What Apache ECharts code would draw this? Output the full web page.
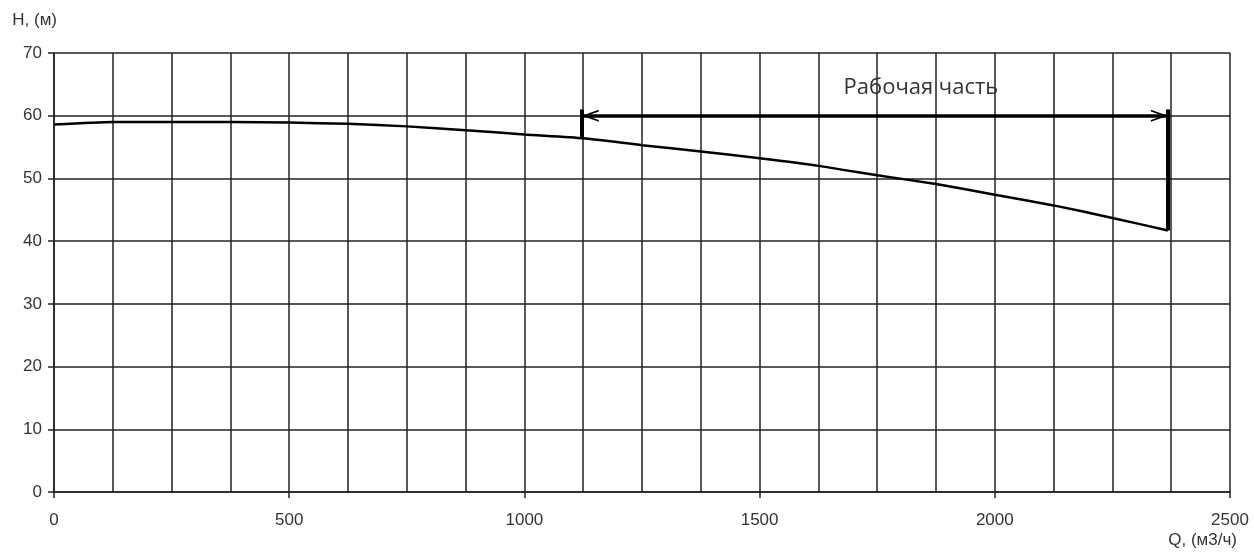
<!DOCTYPE html>
<html>
<head>
<meta charset="utf-8">
<script src="https://cdn.jsdelivr.net/npm/echarts@6/dist/echarts.min.js"></script>
<style>
  html, body { margin: 0; padding: 0; background: #fff; }
  #chart { width: 1254px; height: 553px; }
</style>
</head>
<body>
<div id="chart"></div>
<script>
// расход Q, м3/ч
const qValues = [0, 125, 250, 375, 500, 625, 750, 875, 1000, 1125, 1250, 1375, 1500, 1625, 1750, 1875, 2000, 2125, 2250, 2368]
// напор H, м
const hValues = [58.6, 59.0, 59.0, 59.0, 58.9, 58.7, 58.3, 57.7, 57.0, 56.4, 55.3, 54.3, 53.2, 52.0, 50.5, 49.1, 47.4, 45.7, 43.7, 41.7]

// рабочая часть
const workStart = 1122
const workStartH = 56.4
const workEnd = 2368
const workArrowH = 60
const workMarkTop = 61
const workLabel = "Рабочая часть"
const workLabelPos = [1843, 64.4]

const axisNames = { x: "Q, (м3/ч)", y: "H, (м)" }

const gridColor = "#222"
const textColor = "#333"
const chevron = "path://M6 0 L12 17 L10.2 17 L6 5 L1.8 17 L0 17 Z"

const chart = echarts.init(document.getElementById("chart"))

const option = {
  animation: false,
  grid: {
    left: 54,
    right: 24,
    top: 53,
    bottom: 61,
    containLabel: false,
    outerBoundsMode: "none"
  },
  xAxis: {
    type: "value",
    min: 0,
    max: 2500,
    interval: 500,
    name: axisNames.x,
    nameLocation: "end",
    nameGap: 7,
    nameTextStyle: {
      align: "right",
      verticalAlign: "top",
      padding: [40, 0, 0, 0],
      fontFamily: "Liberation Sans",
      fontSize: 17,
      color: textColor
    },
    axisLine: { show: true, lineStyle: { color: gridColor, width: 1.5 } },
    axisTick: { show: true, length: 6, lineStyle: { color: gridColor, width: 1.5 } },
    axisLabel: {
      margin: 20,
      fontFamily: "Liberation Sans",
      fontSize: 17,
      color: textColor,
      formatter: (v) => String(v)
    },
    splitLine: { show: true, lineStyle: { color: gridColor, width: 1.5 } },
    minorTick: { show: false, splitNumber: 4 },
    minorSplitLine: { show: true, lineStyle: { color: gridColor, width: 1.5 } }
  },
  yAxis: {
    type: "value",
    min: 0,
    max: 70,
    interval: 10,
    name: axisNames.y,
    nameLocation: "end",
    nameGap: 24,
    nameTextStyle: {
      align: "right",
      fontFamily: "Liberation Sans",
      fontSize: 17,
      color: textColor,
      padding: [0, -3, 0, 0]
    },
    axisLine: { show: true, lineStyle: { color: gridColor, width: 1.5 } },
    axisTick: { show: true, length: 6, lineStyle: { color: gridColor, width: 1.5 } },
    axisLabel: { margin: 12, fontFamily: "Liberation Sans", fontSize: 17, color: textColor },
    splitLine: { show: true, lineStyle: { color: gridColor, width: 1.5 } }
  },
  series: [
    {
      type: "line",
      data: qValues.map((q, i) => [q, hValues[i]]),
      smooth: 0.2,
      symbol: "none",
      lineStyle: { color: "#000", width: 2.5 },
      markLine: {
        silent: true,
        label: { show: false },
        lineStyle: { color: "#000", width: 4, type: "solid" },
        data: [
          [
            { coord: [workStart, workStartH], symbol: "none" },
            { coord: [workStart, workMarkTop], symbol: "none" }
          ],
          [
            { coord: [workEnd, hValues[hValues.length - 1]], symbol: "none" },
            { coord: [workEnd, workMarkTop], symbol: "none" }
          ],
          [
            {
              coord: [workStart, workArrowH],
              symbol: chevron,
              symbolSize: [12, 17],
              symbolOffset: [0, 8.5],
              lineStyle: { width: 3.5 }
            },
            { coord: [workEnd, workArrowH], symbol: chevron, symbolSize: [12, 17], symbolOffset: [0, 8.5] }
          ]
        ]
      },
      markPoint: {
        silent: true,
        symbol: "circle",
        symbolSize: 0,
        data: [
          {
            coord: workLabelPos,
            label: {
              show: true,
              position: "inside",
              formatter: workLabel,
              fontFamily: "Open Sans",
              fontSize: 22,
              color: textColor
            }
          }
        ]
      }
    }
  ]
}

chart.setOption(option)
</script>
</body>
</html>
